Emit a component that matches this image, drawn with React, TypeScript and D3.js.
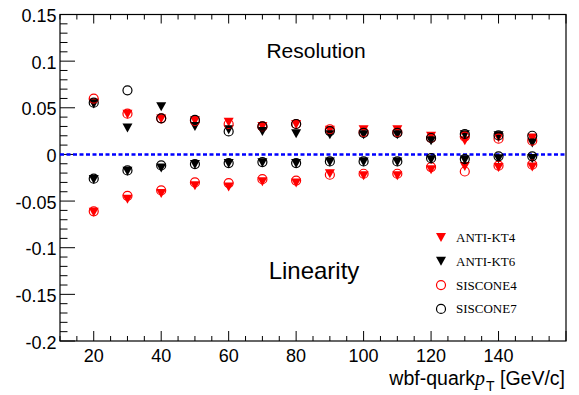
import React from "react";
import * as d3 from "d3";

const ptValues = [20, 30, 40, 50, 60, 70, 80, 90, 100, 110, 120, 130, 140, 150];

// Resolution (positive)
const resAntiKt4 = [0.055, 0.043, 0.038, 0.036, 0.0344, 0.030, 0.032, 0.026, 0.0265, 0.0265, 0.0194, 0.0147, 0.018, 0.0176];
const resAntiKt6 = [0.054, 0.0283, 0.051, 0.030, 0.0265, 0.0247, 0.0222, 0.021, 0.021, 0.021, 0.0147, 0.021, 0.020, 0.0122];
const resSiscone4 = [0.0598, 0.0437, 0.0387, 0.036, 0.0326, 0.030, 0.0326, 0.027, 0.024, 0.024, 0.0176, 0.019, 0.0169, 0.0147];
const resSiscone7 = [0.0555, 0.0687, 0.0387, 0.037, 0.0247, 0.030, 0.0326, 0.025, 0.023, 0.023, 0.0176, 0.0219, 0.0204, 0.020];

// Linearity (negative)
const linAntiKt4 = [-0.062, -0.048, -0.042, -0.0336, -0.035, -0.0293, -0.0307, -0.0207, -0.0229, -0.0229, -0.0164, -0.0129, -0.014, -0.0136];
const linAntiKt6 = [-0.027, -0.018, -0.0146, -0.0108, -0.0098, -0.0088, -0.0098, -0.008, -0.008, -0.008, -0.0057, -0.006, -0.0046, -0.0043];
const linSiscone4 = [-0.061, -0.0444, -0.0386, -0.030, -0.0307, -0.0265, -0.028, -0.0218, -0.0207, -0.0207, -0.0136, -0.0183, -0.0121, -0.011];
const linSiscone7 = [-0.026, -0.0172, -0.0118, -0.0103, -0.0093, -0.0082, -0.0093, -0.0075, -0.0075, -0.0075, -0.004, -0.005, -0.002, -0.002];

const xTickLabels = [20, 40, 60, 80, 100, 120, 140];
const yTickLabels = [0.15, 0.1, 0.05, 0, -0.05, -0.1, -0.15, -0.2];
const legendNames = ["ANTI-KT4", "ANTI-KT6", "SISCONE4", "SISCONE7"];

const W = 579, H = 395;
const L = 60, R = 566, T = 14.5, B = 341;

const x = d3.scaleLinear().domain([10, 160]).range([L, R]);
const y = d3.scaleLinear().domain([-0.2, 0.15]).range([B, T]);

const TRI = "M-5,-4.5L5,-4.5L0,4.5Z";

type Series = { vals: number[]; color: string; kind: "tri" | "circ" };
const series: Series[] = [
  { vals: [...resAntiKt4], color: "#ff0000", kind: "tri" },
  { vals: [...linAntiKt4], color: "#ff0000", kind: "tri" },
  { vals: [...resAntiKt6], color: "#000000", kind: "tri" },
  { vals: [...linAntiKt6], color: "#000000", kind: "tri" },
  { vals: [...resSiscone4], color: "#ff0000", kind: "circ" },
  { vals: [...linSiscone4], color: "#ff0000", kind: "circ" },
  { vals: [...resSiscone7], color: "#000000", kind: "circ" },
  { vals: [...linSiscone7], color: "#000000", kind: "circ" },
];

const legendStyle: { color: string; kind: "tri" | "circ" }[] = [
  { color: "#ff0000", kind: "tri" },
  { color: "#000000", kind: "tri" },
  { color: "#ff0000", kind: "circ" },
  { color: "#000000", kind: "circ" },
];

function Marker({ cx, cy, color, kind }: { cx: number; cy: number; color: string; kind: "tri" | "circ" }) {
  if (kind === "tri") return <path d={TRI} transform={`translate(${cx},${cy})`} fill={color} />;
  return <circle cx={cx} cy={cy} r={4.5} fill="none" stroke={color} strokeWidth={1.2} />;
}

export default function App() {
  const xMinor = d3.range(10, 161, 5);
  const yMinor = d3.range(-20, 16, 1).map((v) => v / 100);
  const sans = "Liberation Sans, Arial, Helvetica, sans-serif";
  const serif = "Liberation Serif, Times New Roman, serif";
  return (
    <svg width={W} height={H} style={{ position: "absolute", left: 0, top: 0, background: "#fff" }}>
      <rect x={0} y={0} width={W} height={H} fill="#fff" />
      {/* bottom & top ticks */}
      {xMinor.map((v) => {
        const major = v % 20 === 0;
        return (
          <g key={"xt" + v}>
            <line x1={x(v)} x2={x(v)} y1={B} y2={B - (major ? 10 : 5)} stroke="#000" strokeWidth={1} />
            <line x1={x(v)} x2={x(v)} y1={T} y2={T + (major ? 9 : 5)} stroke="#000" strokeWidth={1} />
          </g>
        );
      })}
      {yMinor.map((v, i) => {
        const major = Math.round(v * 100) % 5 === 0;
        return <line key={"yt" + i} x1={L} x2={L + (major ? 15 : 7.5)} y1={y(v)} y2={y(v)} stroke="#000" strokeWidth={1} />;
      })}
      <rect x={L} y={T} width={R - L} height={B - T} fill="none" stroke="#000" strokeWidth={1.2} />
      {/* tick labels */}
      {yTickLabels.map((v) => (
        <text key={"yl" + v} x={56.5} y={y(v) + 7.5} textAnchor="end" fontFamily={sans} fontSize={18} fill="#000">
          {v === 0 ? "0" : String(v)}
        </text>
      ))}
      {xTickLabels.map((v) => (
        <text key={"xl" + v} x={x(v)} y={362} textAnchor="middle" fontFamily={sans} fontSize={18} fill="#000">
          {v}
        </text>
      ))}
      <text x={565} y={385} textAnchor="end" fontFamily={sans} fontSize={19.5} fill="#000">
        wbf-quark
        <tspan fontFamily={serif} fontStyle="italic" fontSize={20}>p</tspan>
        <tspan fontSize={14} dy={6} dx={1}>T</tspan>
        <tspan dy={-6}>  [GeV/c]</tspan>
      </text>
      {/* zero line */}
      <line x1={L} x2={R} y1={y(0)} y2={y(0)} stroke="#0000ff" strokeWidth={2.6} strokeDasharray="4,2.5" />
      {/* markers */}
      {series.map((s, si) =>
        s.vals.map((v, i) => <Marker key={si + "-" + i} cx={x(ptValues[i])} cy={y(v)} color={s.color} kind={s.kind} />)
      )}
      {/* annotations */}
      <text x={316} y={58} textAnchor="middle" fontFamily={sans} fontSize={21} fill="#000">Resolution</text>
      <text x={314} y={279} textAnchor="middle" fontFamily={sans} fontSize={24} fill="#000">Linearity</text>
      {/* legend */}
      {legendNames.map((n, i) => {
        const ly = 237.5 + i * 23.8;
        return (
          <g key={n}>
            <Marker cx={441} cy={ly} color={legendStyle[i].color} kind={legendStyle[i].kind} />
            <text x={456} y={ly + 4.5} fontFamily={serif} fontSize={13} fill="#000">{n}</text>
          </g>
        );
      })}
    </svg>
  );
}
